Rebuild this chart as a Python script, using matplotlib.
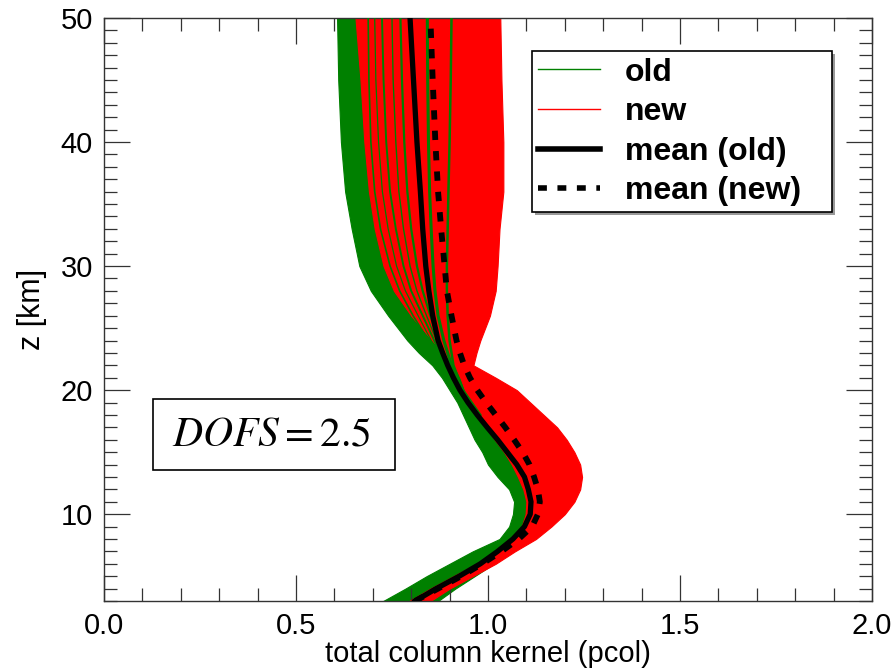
import numpy as np
import matplotlib
matplotlib.use('Agg')
import matplotlib.pyplot as plt
from matplotlib.lines import Line2D
from matplotlib.patches import Rectangle
from matplotlib.ticker import MultipleLocator

# ---------------- data ----------------
Z = [3, 4, 5, 6, 7, 8, 9, 10, 11, 12, 13, 14, 15, 16, 17, 18, 19, 20,
     21, 22, 23, 24, 26, 28, 30, 33, 36, 40, 45, 50]

mean_old = [0.81, 0.865, 0.925, 0.98, 1.025, 1.065, 1.095, 1.11, 1.112, 1.105,
            1.095, 1.075, 1.05, 1.025, 0.998, 0.972, 0.948, 0.927, 0.91, 0.895,
            0.882, 0.87, 0.856, 0.846, 0.838, 0.830, 0.824, 0.815, 0.806, 0.797]
mean_new = [0.81, 0.87, 0.93, 0.985, 1.035, 1.08, 1.115, 1.13, 1.135, 1.13,
            1.12, 1.108, 1.09, 1.068, 1.045, 1.02, 0.995, 0.972, 0.953, 0.938,
            0.927, 0.918, 0.905, 0.893, 0.887, 0.878, 0.870, 0.863, 0.856, 0.850]

# envelope of the individual "old" kernels
old_left = [0.727, 0.785, 0.84, 0.90, 0.96, 1.03, 1.055, 1.065, 1.068, 1.055,
            1.025, 1.0, 0.985, 0.965, 0.95, 0.935, 0.92, 0.90, 0.88, 0.855,
            0.82, 0.79, 0.74, 0.695, 0.665, 0.645, 0.628, 0.617, 0.61, 0.607]
old_right = [0.87, 0.915, 0.965, 1.015, 1.06, 1.09, 1.105, 1.11, 1.11, 1.105,
             1.095, 1.08, 1.06, 1.04, 1.015, 0.99, 0.97, 0.948, 0.928, 0.913,
             0.905, 0.90, 0.895, 0.893, 0.893, 0.895, 0.897, 0.90, 0.905, 0.91]
# envelope of the individual "new" kernels
new_left = [0.795, 0.85, 0.91, 0.97, 1.025, 1.065, 1.088, 1.098, 1.10, 1.092,
            1.078, 1.062, 1.042, 1.018, 0.995, 0.975, 0.955, 0.94, 0.928, 0.912,
            0.885, 0.855, 0.80, 0.755, 0.728, 0.705, 0.69, 0.678, 0.668, 0.655]
new_right = [0.85, 0.90, 0.96, 1.02, 1.07, 1.125, 1.165, 1.20, 1.225, 1.24,
             1.245, 1.24, 1.225, 1.205, 1.18, 1.145, 1.11, 1.075, 1.02, 0.962,
             0.97, 0.98, 1.005, 1.02, 1.025, 1.03, 1.04, 1.04, 1.035, 1.032]

# individual "old" kernels visible inside the "new" bundle (upper part)
Z_top = [18, 20, 22, 24, 26, 28, 30, 33, 36, 40, 45, 50]
old_strand_1 = [0.975, 0.93, 0.905, 0.885, 0.87, 0.862, 0.857, 0.852, 0.848, 0.845, 0.843, 0.842]
old_strand_2 = [0.965, 0.92, 0.89, 0.86, 0.83, 0.80, 0.78, 0.76, 0.745, 0.735, 0.728, 0.724]
old_strand_3 = [0.97, 0.925, 0.897, 0.872, 0.85, 0.83, 0.815, 0.80, 0.79, 0.782, 0.776, 0.772]
old_strand_4 = [0.98, 0.935, 0.91, 0.90, 0.895, 0.893, 0.893, 0.895, 0.897, 0.90, 0.903, 0.905]
old_strand_5 = [0.96, 0.915, 0.88, 0.845, 0.805, 0.77, 0.745, 0.72, 0.705, 0.695, 0.69, 0.688]
old_strand_6 = [0.962, 0.918, 0.885, 0.852, 0.818, 0.785, 0.762, 0.74, 0.725, 0.715, 0.708, 0.705]
old_strand_7 = [0.968, 0.923, 0.894, 0.866, 0.84, 0.815, 0.797, 0.78, 0.768, 0.76, 0.753, 0.75]

legend_labels = ['old', 'new', 'mean (old)', 'mean (new)']
x_ticks = [0.0, 0.5, 1.0, 1.5, 2.0]
x_ticklabels = ['0.0', '0.5', '1.0', '1.5', '2.0']
y_ticks = [10, 20, 30, 40, 50]
dofs_text = r'$DOFS=2.5$'

# ---------------- drawing ----------------
plt.rcParams['font.family'] = ['Liberation Sans', 'DejaVu Sans']
plt.rcParams['mathtext.fontset'] = 'stix'

GREEN = '#008000'
RED = '#ff0000'
DASH = (0, (1.6, 1.9))

fig = plt.figure(figsize=(8.94, 6.71), dpi=100)
ax = fig.add_axes([0.1163, 0.1043, 0.8591, 0.8689])

ax.fill_betweenx(Z, old_left, old_right, color=GREEN, lw=0.8, edgecolor=GREEN, zorder=1)
ax.fill_betweenx(Z, new_left, new_right, color=RED, lw=0.8, edgecolor=RED, zorder=2)
strands = [old_strand_1, old_strand_2, old_strand_3, old_strand_4,
           old_strand_5, old_strand_6, old_strand_7]
for strand, lw in zip(strands, [2.2, 1.4, 1.6, 1.8, 1.2, 0.9, 1.0]):
    ax.plot(strand, Z_top, color=GREEN, lw=lw, zorder=3)

ax.plot(mean_old, Z, color='k', lw=3.8, zorder=5)
ax.plot(mean_new, Z, color='k', lw=4.2, ls=DASH, zorder=6)

ax.set_xlim(0, 2)
ax.set_ylim(3, 50)
ax.set_xticks(x_ticks)
ax.set_xticklabels(x_ticklabels)
ax.set_yticks(y_ticks)
ax.xaxis.set_minor_locator(MultipleLocator(0.1))
ax.yaxis.set_minor_locator(MultipleLocator(1))
ax.tick_params(which='both', direction='in', top=True, right=True,
               color='#333333', width=0.9, labelsize=21, pad=8)
ax.tick_params(which='major', length=19)
ax.tick_params(which='minor', length=9.6)
for sp in ax.spines.values():
    sp.set_color('#333333')
    sp.set_linewidth(1.0)

ax.set_xlabel('total column kernel (pcol)', fontsize=21, labelpad=0)
ax.set_ylabel('z [km]', fontsize=22, labelpad=10)

# legend frame (drawn as patches so its size matches the reference)
ax.add_patch(Rectangle((0.561, 0.662), 0.391, 0.276, transform=ax.transAxes,
                       facecolor='0.6', edgecolor='none', zorder=9))
ax.add_patch(Rectangle((0.557, 0.667), 0.391, 0.276, transform=ax.transAxes,
                       facecolor='white', edgecolor='k', lw=1.2, zorder=9.5))
handles = [Line2D([], [], color=GREEN, lw=1.0),
           Line2D([], [], color=RED, lw=1.0),
           Line2D([], [], color='k', lw=4),
           Line2D([], [], color='k', lw=4, ls=DASH)]
leg = ax.legend(handles, legend_labels, loc='upper left',
                bbox_to_anchor=(0.565, 0.932), borderaxespad=0, borderpad=0,
                prop={'weight': 'bold', 'size': 23}, frameon=False,
                handlelength=1.95, handletextpad=0.78, labelspacing=0.3)
leg.set_zorder(10)

ax.add_patch(Rectangle((0.064, 0.225), 0.315, 0.122, transform=ax.transAxes,
                       facecolor='white', edgecolor='k', lw=1.2, zorder=7))
ax.text(0.2175, 0.286, dofs_text, transform=ax.transAxes, ha='center',
        va='center', fontsize=30, zorder=8)

fig.savefig('out.png', dpi=100)
